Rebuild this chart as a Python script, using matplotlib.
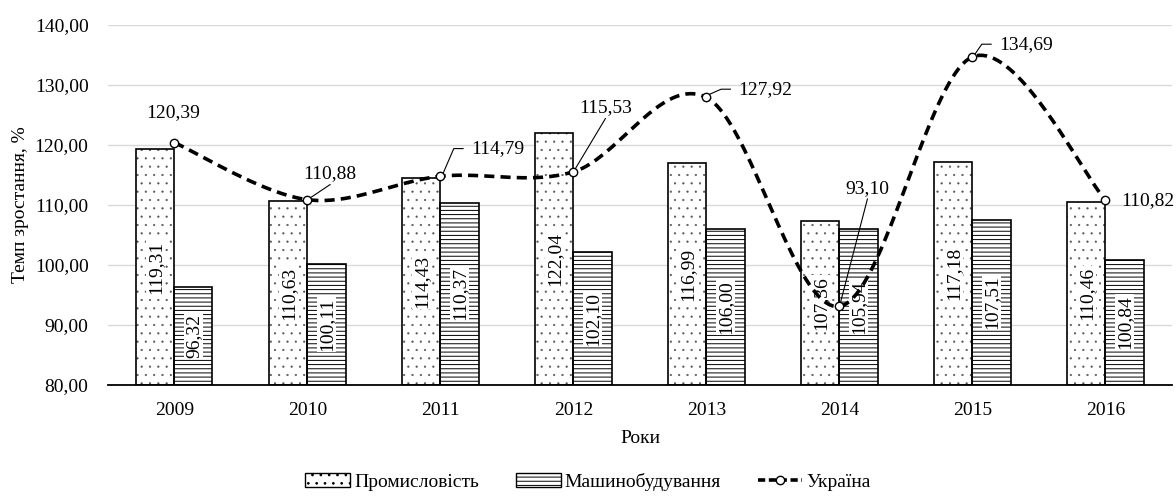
import numpy as np
import matplotlib
matplotlib.use("Agg")
import matplotlib.pyplot as plt
from matplotlib.patches import Patch
from matplotlib.lines import Line2D

plt.rcParams['font.family'] = ['Liberation Serif', 'DejaVu Serif']
plt.rcParams['hatch.linewidth'] = 0.7

years = ['2009', '2010', '2011', '2012', '2013', '2014', '2015', '2016']
industry = [119.31, 110.63, 114.43, 122.04, 116.99, 107.36, 117.18, 110.46]
machinery = [96.32, 100.11, 110.37, 102.10, 106.00, 105.94, 107.51, 100.84]
ukraine = [120.39, 110.88, 114.79, 115.53, 127.92, 93.10, 134.69, 110.82]

# розміщення підписів лінії: x, y тексту і тип виноски
line_lbl_x = [-0.01, 1.17, 2.23, 3.24, 4.24, 5.21, 6.20, 7.32]
line_lbl_y = [125.4, 115.2, 119.4, 126.2, 129.3, 112.8, 136.8, 110.7]
leader = ['none', 'straight', 'elbow', 'straight', 'elbow', 'straight', 'elbow', 'none']

FS = 14
DOT_COLOR = '#555555'


def fmt(v):
    return ('%.2f' % v).replace('.', ',')


def smooth(y, n=40):
    # згладжування як у Excel (Безьє через Catmull-Rom)
    y = np.asarray(y, dtype=float)
    x = np.arange(len(y), dtype=float)
    px = np.concatenate([[x[0]], x, [x[-1]]])
    py = np.concatenate([[y[0]], y, [y[-1]]])
    xs, ys = [], []
    for i in range(len(y) - 1):
        p0 = np.array([px[i], py[i]])
        p1 = np.array([px[i + 1], py[i + 1]])
        p2 = np.array([px[i + 2], py[i + 2]])
        p3 = np.array([px[i + 3], py[i + 3]])
        c1 = p1 + (p2 - p0) / 6
        c2 = p2 - (p3 - p1) / 6
        t = np.linspace(0, 1, n)[:, None]
        b = (1 - t) ** 3 * p1 + 3 * (1 - t) ** 2 * t * c1 + 3 * (1 - t) * t ** 2 * c2 + t ** 3 * p2
        xs.extend(b[:, 0])
        ys.extend(b[:, 1])
    return np.array(xs), np.array(ys)


fig = plt.figure(figsize=(11.76, 4.97), dpi=100)
ax = fig.add_axes([0.0918, 0.2254, 0.9048, 0.7243])

x = np.arange(len(years))
w = 0.286
ind_h = np.array(industry) - 80
mach_h = np.array(machinery) - 80

# промисловість: світлі точки + чорний контур окремо
b1 = ax.bar(x - w / 2, ind_h, w, bottom=80, color='white', edgecolor=DOT_COLOR,
            hatch='..', linewidth=0, zorder=2)
for p in b1:
    if hasattr(p, 'set_hatch_linewidth'):
        p.set_hatch_linewidth(0.35)
ax.bar(x - w / 2, ind_h, w, bottom=80, fill=False, edgecolor='black',
       linewidth=1.2, zorder=3.2)

b2 = ax.bar(x + w / 2, mach_h, w, bottom=80, color='white',
            edgecolor='black', hatch='----', linewidth=1.2, zorder=2)

for xi, v in zip(x - w / 2, industry):
    ax.text(xi, (80 + v) / 2, fmt(v), rotation=90, ha='center', va='center',
            fontsize=FS, zorder=3,
            bbox=dict(facecolor='white', edgecolor='none', pad=0.8))
for xi, v in zip(x + w / 2, machinery):
    ax.text(xi, (80 + v) / 2, fmt(v), rotation=90, ha='center', va='center',
            fontsize=FS, zorder=3,
            bbox=dict(facecolor='white', edgecolor='none', pad=0.8))

sx, sy = smooth(ukraine)
ax.plot(sx, sy, color='black', lw=2.6, linestyle=(0, (2.8, 1.7)), zorder=4, clip_on=False)
ax.plot(x, ukraine, linestyle='none', marker='o', ms=6, mfc='white', mec='black',
        mew=1.0, zorder=5, clip_on=False)

for i, v in enumerate(ukraine):
    tx = line_lbl_x[i]
    ty = line_lbl_y[i]
    if leader[i] == 'none':
        ax.text(tx, ty, fmt(v), ha='center', va='center', fontsize=FS, zorder=6)
    elif leader[i] == 'straight':
        ax.text(tx, ty, fmt(v), ha='center', va='center', fontsize=FS, zorder=6)
        ax.plot([i, tx], [v, ty - 1.8], color='black', lw=0.8, zorder=3.5)
    else:
        ax.text(tx, ty, fmt(v), ha='left', va='center', fontsize=FS, zorder=6)
        ex = tx - 0.13
        ax.plot([i + 0.02, ex, tx - 0.06], [v + 0.5, ty, ty], color='black', lw=0.8,
                zorder=3.5, clip_on=False)

ax.set_xlim(-0.5, 7.5)
ax.set_ylim(80, 140)
ax.set_yticks(np.arange(80, 141, 10))
ax.set_yticklabels([fmt(v) for v in np.arange(80, 141, 10)], fontsize=FS)
ax.set_xticks(x)
ax.set_xticklabels(years, fontsize=FS)
ax.tick_params(axis='y', length=0, pad=14)
ax.tick_params(axis='x', length=0, pad=12)
ax.grid(axis='y', color='#d9d9d9', lw=1.0, zorder=0)
ax.set_axisbelow(True)
for s in ['top', 'right', 'left']:
    ax.spines[s].set_visible(False)
ax.spines['bottom'].set_linewidth(1.3)
ax.spines['bottom'].set_zorder(6)

ax.set_ylabel('Темп зростання, %', fontsize=FS, labelpad=4)
ax.set_xlabel('Роки', fontsize=FS, labelpad=8)

handles = [
    Patch(facecolor='white', edgecolor='black', hatch='..', label='Промисловість'),
    Patch(facecolor='white', edgecolor='black', hatch='----', label='Машинобудування'),
    Line2D([], [], color='black', lw=2.6, linestyle=(0, (2.0, 1.0)), marker='o', ms=6,
           mfc='white', mec='black', label='Україна'),
]
leg = fig.legend(handles=handles, loc='center', bbox_to_anchor=(0.5, 0.03), ncol=3,
                 frameon=False, fontsize=FS, handlelength=2.3, handleheight=0.7,
                 handletextpad=0.2, columnspacing=1.9)

fig.savefig('out.png', dpi=100)
